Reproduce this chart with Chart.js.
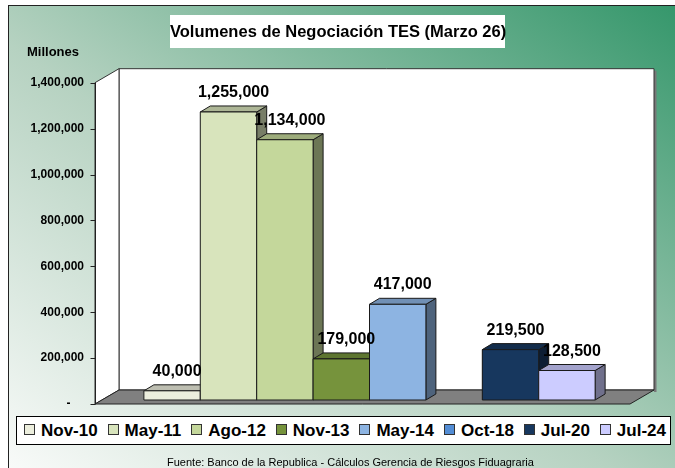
<!DOCTYPE html>
<html>
<head>
<meta charset="utf-8">
<script src="https://cdn.jsdelivr.net/npm/chart.js@4.4.1/dist/chart.umd.min.js"></script>
<style>
  body { margin: 0; width: 675px; height: 468px; overflow: hidden; background: #fff;
         font-family: "Liberation Sans", Arial, sans-serif; position: relative; }
  #frame { position: absolute; left: 8px; top: 5px; width: 680px; height: 480px; border: 1px solid #222;
           background: linear-gradient(to top right, #fbfcfb 0%, #b6d2c1 46%, #33966a 100%); }
  #chart { position: absolute; left: 0; top: 0; }
  #title { position: absolute; left: 170px; top: 15px; width: 335px; height: 33px; background: #fff;
           font-weight: bold; font-size: 16.5px; line-height: 33px; text-align: center; white-space: nowrap; }
  #unit { position: absolute; left: 27px; top: 44px; font-weight: bold; font-size: 13px; }
  #legend { position: absolute; left: 16px; top: 416px; width: 655px; height: 29px; box-sizing: border-box;
            border: 1px solid #000; background: #fff; display: flex; justify-content: space-between;
            align-items: center; padding: 0 4px 0 7px; font-weight: bold; font-size: 17px; }
  #legend span.sq { display: inline-block; width: 9px; height: 9px; border: 1px solid #333; margin-right: 6px; vertical-align: 1px; }
  #source { position: absolute; left: 167px; top: 456px; font-size: 11px; white-space: nowrap; }
</style>
</head>
<body>
<div id="frame"></div>
<canvas id="chart" width="675" height="468"></canvas>
<div id="title">Volumenes de Negociación TES (Marzo 26)</div>
<div id="unit">Millones</div>
<div id="legend"></div>
<div id="source">Fuente: Banco de la Republica - Cálculos Gerencia de Riesgos Fiduagraria</div>
<script>
const categories = ["Nov-10", "May-11", "Ago-12", "Nov-13", "May-14", "Oct-18", "Jul-20", "Jul-24"];
const volumes = [40000, 1255000, 1134000, 179000, 417000, null, 219500, 128500];
const colors = ["#eceedd", "#d8e4bc", "#c4d79b", "#76933c", "#8db4e2", "#538dd5", "#17375e", "#ccccff"];
const yMax = 1400000;
const yStep = 200000;

const FONT = '"Liberation Sans", Arial, sans-serif';
const DX = 10, DY = 6;              // bar depth
const FRONT = { dx: -7, dy: 4 };    // front plane vs bar plane
const BACK = { dx: 17, dy: -10 };   // back wall vs bar plane

const shade = (hex, f) => {
  const n = parseInt(hex.slice(1), 16);
  const c = [(n >> 16) & 255, (n >> 8) & 255, n & 255].map(v => Math.round(v * f));
  return `rgb(${c.join(",")})`;
};

const poly = (ctx, pts, fill, stroke) => {
  ctx.beginPath();
  pts.forEach(([x, y], i) => (i ? ctx.lineTo(x, y) : ctx.moveTo(x, y)));
  ctx.closePath();
  if (fill) { ctx.fillStyle = fill; ctx.fill(); }
  if (stroke) { ctx.strokeStyle = stroke; ctx.lineWidth = 1; ctx.stroke(); }
};

const walls3d = {
  id: "walls3d",
  beforeDatasetsDraw(chart) {
    const { ctx, chartArea: a, scales: { y } } = chart;
    const top = y.getPixelForValue(yMax), base = y.getPixelForValue(0);
    ctx.save();
    // back wall + shadow
    ctx.fillStyle = "#777";
    ctx.fillRect(a.right + BACK.dx, top + BACK.dy + 2, 2.5, base - top);
    poly(ctx, [[a.left + BACK.dx, top + BACK.dy], [a.right + BACK.dx, top + BACK.dy],
               [a.right + BACK.dx, base + BACK.dy], [a.left + BACK.dx, base + BACK.dy]], "#fff", "#333");
    // left wall
    poly(ctx, [[a.left + FRONT.dx, top + FRONT.dy], [a.left + BACK.dx, top + BACK.dy],
               [a.left + BACK.dx, base + BACK.dy], [a.left + FRONT.dx, base + FRONT.dy]], "#fff", "#333");
    // floor
    poly(ctx, [[a.left + FRONT.dx, base + FRONT.dy], [a.right + FRONT.dx, base + FRONT.dy],
               [a.right + BACK.dx, base + BACK.dy], [a.left + BACK.dx, base + BACK.dy]], "#808080", "#222");
    // value axis on the front plane
    ctx.strokeStyle = "#222";
    ctx.lineWidth = 1;
    ctx.beginPath();
    const ax = Math.round(a.left + FRONT.dx) + 0.5;
    ctx.moveTo(ax, top + FRONT.dy);
    ctx.lineTo(ax, base + FRONT.dy);
    y.ticks.forEach(t => {
      const ty = Math.round(y.getPixelForValue(t.value) + FRONT.dy) + 0.5;
      ctx.moveTo(ax - 5, ty);
      ctx.lineTo(ax, ty);
    });
    ctx.stroke();
    // accounting-style zero label, sits left of the number column
    ctx.fillStyle = "#000";
    ctx.font = `bold 12px ${FONT}`;
    ctx.textAlign = "center";
    ctx.textBaseline = "middle";
    ctx.fillText("-", 68.5, y.getPixelForValue(0) + FRONT.dy);
    ctx.restore();
  },
  afterDatasetsDraw(chart) {
    const { ctx } = chart;
    ctx.save();
    ctx.lineJoin = "round";
    chart.data.datasets.forEach((ds, i) => {
      const v = ds.data[0];
      if (v == null) return;
      const bar = chart.getDatasetMeta(i).data[0];
      const { x, y, base, width } = bar.getProps(["x", "y", "base", "width"], true);
      const l = x - width / 2, r = x + width / 2;
      const col = colors[i];
      poly(ctx, [[r, y], [r + DX, y - DY], [r + DX, base - DY], [r, base]], shade(col, 0.55), "#1a1a1a");
      poly(ctx, [[l, y], [l + DX, y - DY], [r + DX, y - DY], [r, y]], shade(col, 0.8), "#1a1a1a");
      poly(ctx, [[l, y], [r, y], [r, base], [l, base]], col, "#1a1a1a");
    });
    // value labels
    ctx.fillStyle = "#000";
    ctx.font = `bold 16px ${FONT}`;
    ctx.textAlign = "center";
    ctx.textBaseline = "alphabetic";
    chart.data.datasets.forEach((ds, i) => {
      const v = ds.data[0];
      if (v == null) return;
      const bar = chart.getDatasetMeta(i).data[0];
      ctx.fillText(v.toLocaleString("en-US"), bar.x + 5, bar.y - 15);
    });
    ctx.restore();
  }
};

// legend
const legend = document.getElementById("legend");
categories.forEach((c, i) => {
  const item = document.createElement("div");
  item.innerHTML = `<span class="sq" style="background:${colors[i]}"></span>${c}`;
  legend.appendChild(item);
});

new Chart(document.getElementById("chart"), {
  type: "bar",
  data: {
    labels: [""],
    datasets: categories.map((c, i) => ({
      label: c,
      data: [volumes[i]],
      backgroundColor: colors[i],
      borderWidth: 0,
      barPercentage: 1,
      categoryPercentage: 0.8434,
    })),
  },
  options: {
    responsive: false,
    animation: false,
    layout: { padding: { top: 78.7, right: 38, bottom: 68, left: 0 } },
    plugins: { legend: { display: false }, tooltip: { enabled: false } },
    scales: {
      x: { display: false },
      y: {
        min: 0,
        max: yMax,
        afterFit: scale => { scale.width = 102; },
        grid: { display: false, drawTicks: false },
        border: { display: false },
        ticks: {
          stepSize: yStep,
          padding: 18,
          labelOffset: 4,
          color: "#000",
          font: { family: FONT, size: 12, weight: "bold" },
          callback: v => (v === 0 ? "" : v.toLocaleString("en-US")),
        },
      },
    },
  },
  plugins: [walls3d],
});
</script>
</body>
</html>
